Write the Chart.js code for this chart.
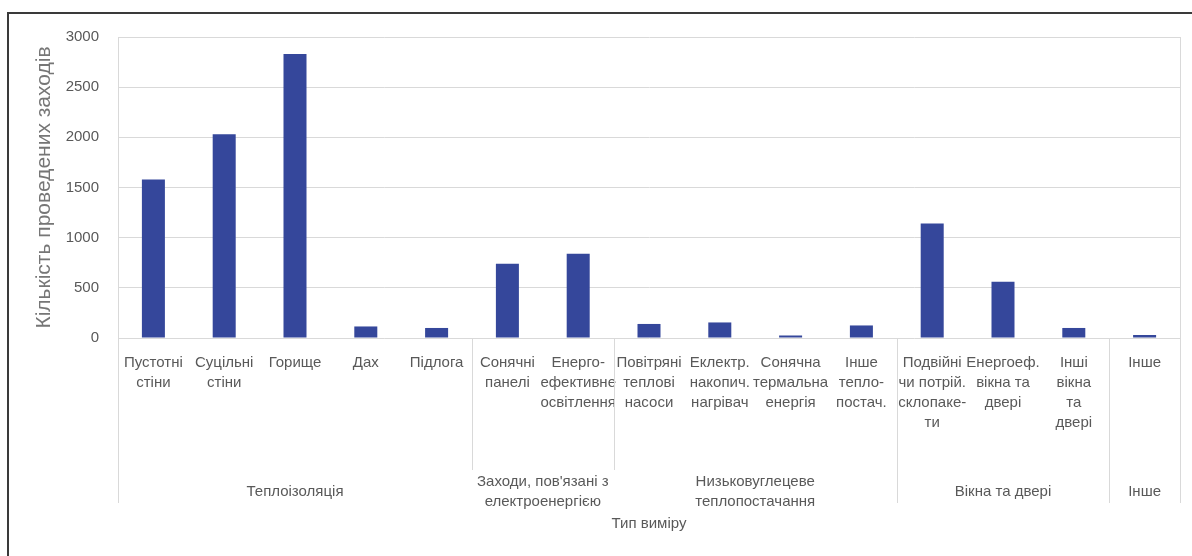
<!DOCTYPE html>
<html>
<head>
<meta charset="utf-8">
<script src="https://cdn.jsdelivr.net/npm/chart.js@4"></script>
<style>
  html, body { margin: 0; padding: 0; background: #fff; overflow: hidden; }
  #wrap { position: relative; width: 1192px; height: 556px; }
  #frame { position: absolute; left: 7px; top: 12px; width: 1300px; height: 700px; border: 2px solid #3a3a3a; pointer-events: none; }
</style>
</head>
<body>
<div id="wrap">
  <canvas id="chart" width="1192" height="556"></canvas>
  <div id="frame"></div>
</div>
<script>
const categories = [
  ['Пустотні', 'стіни'],
  ['Суцільні', 'стіни'],
  'Горище',
  'Дах',
  'Підлога',
  ['Сонячні', 'панелі'],
  ['Енерго-', 'ефективне', 'освітлення'],
  ['Повітряні', 'теплові', 'насоси'],
  ['Еклектр.', 'накопич.', 'нагрівач'],
  ['Сонячна', 'термальна', 'енергія'],
  ['Інше', 'тепло-', 'постач.'],
  ['Подвійні', 'чи потрій.', 'склопаке-', 'ти'],
  ['Енергоеф.', 'вікна та', 'двері'],
  ['Інші', 'вікна', 'та', 'двері'],
  'Інше'
];
const counts = [1580, 2030, 2830, 115, 100, 740, 840, 140, 155, 25, 125, 1140, 560, 100, 30];
const groupNames = [
  'Теплоізоляція',
  ['Заходи, пов\'язані з', 'електроенергією'],
  ['Низьковуглецеве', 'теплопостачання'],
  'Вікна та двері',
  'Інше'
];
const groupSizes = [5, 2, 4, 3, 1];
const yTicks = [0, 500, 1000, 1500, 2000, 2500, 3000];

const FONT = '"Liberation Sans", Arial, sans-serif';
const TEXT = '#595959';
const LINE = '#d9d9d9';
Chart.defaults.font.family = FONT;

// group labels under the category labels + the separator lines
const groupPlugin = {
  id: 'groups',
  afterDraw(chart) {
    const { ctx, chartArea } = chart;
    const x = chart.scales.x;
    const fullBottom = 503, shortBottom = 470, labelY = 492;
    ctx.save();
    ctx.font = '15px ' + FONT;
    ctx.fillStyle = TEXT;
    ctx.textAlign = 'center';
    ctx.textBaseline = 'middle';

    const edges = [];
    let start = 0;
    const wide = groupNames.map((name, g) => {
      const lines = Array.isArray(name) ? name : [name];
      const x0 = x.getPixelForValue(start - 0.5);
      const x1 = x.getPixelForValue(start + groupSizes[g] - 0.5);
      edges.push(x0);
      start += groupSizes[g];
      const cx = (x0 + x1) / 2;
      lines.forEach((l, i) => ctx.fillText(l, cx, labelY + (i - (lines.length - 1) / 2) * 20));
      return Math.max(...lines.map(l => ctx.measureText(l).width)) > (x1 - x0) * 0.85;
    });
    edges.push(x.getPixelForValue(start - 0.5));

    ctx.strokeStyle = LINE;
    ctx.lineWidth = 1;
    edges.forEach((px, i) => {
      const short = wide[i - 1] || wide[i];
      const xx = Math.round(px) + 0.5;
      const top = i === edges.length - 1 ? chartArea.top : chartArea.bottom;
      ctx.beginPath();
      ctx.moveTo(xx, top);
      ctx.lineTo(xx, short ? shortBottom : fullBottom);
      ctx.stroke();
    });
    ctx.restore();
  }
};

new Chart(document.getElementById('chart'), {
  type: 'bar',
  data: {
    labels: categories,
    datasets: [{
      data: counts,
      backgroundColor: '#35479b',
      barPercentage: 0.325,
      categoryPercentage: 1
    }]
  },
  options: {
    responsive: false,
    animation: false,
    devicePixelRatio: 1,
    layout: { padding: { top: 37, right: 12, left: 0, bottom: 0 } },
    plugins: { legend: { display: false }, tooltip: { enabled: false } },
    scales: {
      x: {
        grid: { display: false, drawTicks: false },
        border: { display: false },
        ticks: {
          color: TEXT, font: { size: 15, lineHeight: 20 / 15 }, padding: 15,
          autoSkip: false, maxRotation: 0, minRotation: 0
        },
        title: { display: true, text: 'Тип виміру', color: TEXT, font: { size: 15 }, padding: { top: 0, bottom: 23 } },
        afterFit(scale) { scale.height = 218; }
      },
      y: {
        min: 0, max: 3000,
        afterBuildTicks(scale) { scale.ticks = yTicks.map(v => ({ value: v })); },
        ticks: { color: TEXT, font: { size: 15 }, padding: 19, callback: v => String(v) },
        grid: { color: LINE, drawTicks: false },
        border: { display: true, color: LINE },
        title: {
          display: true, text: 'Кількість проведених заходів', color: '#767676',
          font: { size: 21 }, padding: { top: 32, bottom: 0 }
        },
        afterFit(scale) { scale.width = 118; }
      }
    }
  },
  plugins: [groupPlugin]
});
</script>
</body>
</html>
